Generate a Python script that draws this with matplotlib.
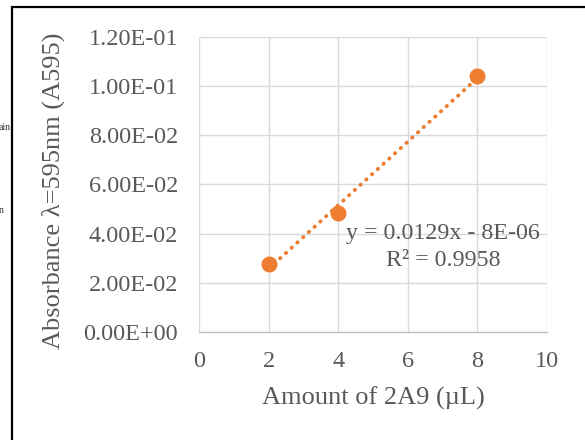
import matplotlib
matplotlib.use("Agg")
import matplotlib.pyplot as plt
from matplotlib.patches import Rectangle
from matplotlib.ticker import FuncFormatter
import numpy as np

# data
amount_ul = [2, 4, 8]
absorbance = [0.0277, 0.0486, 0.1043]
equation_text = "y = 0.0129x - 8E-06"
r2_text = "R\u00b2 = 0.9958"

orange = "#ED7D31"
text_gray = "#595959"
grid_gray = "#D9D9D9"

plt.rcParams['font.family'] = ['Liberation Serif', 'DejaVu Serif']

W, H = 585, 440
fig = plt.figure(figsize=(W / 100, H / 100), dpi=100)
ax = fig.add_axes([199 / W, (H - 332) / H, 348 / W, 295 / H])

# linear trendline (dotted), like the Excel one
slope, intercept = np.polyfit(amount_ul, absorbance, 1)
xs = np.array([min(amount_ul), max(amount_ul)])
ax.plot(xs, slope * xs + intercept, color=orange, linewidth=2.8,
        linestyle=(0, (0.1, 1.9)), dash_capstyle='round', zorder=3)
ax.plot(amount_ul, absorbance, 'o', color=orange, markersize=10.5, zorder=4)

ax.set_xlim(0, 10)
ax.set_ylim(0, 0.12)
ax.set_xticks(range(0, 11, 2))
ax.set_yticks(np.arange(0, 0.1201, 0.02))
ax.yaxis.set_major_formatter(FuncFormatter(lambda v, p: f"{v:.2E}"))
ax.grid(True, color=grid_gray, linewidth=1.0)
ax.set_axisbelow(True)
for s in ['top', 'right', 'left']:
    ax.spines[s].set_visible(False)
ax.spines['bottom'].set_color('#BFBFBF')
ax.spines['bottom'].set_linewidth(1.0)
ax.tick_params(axis='both', length=0, labelsize=17.5, labelcolor=text_gray)
ax.tick_params(axis='y', pad=15)
ax.tick_params(axis='x', pad=14)

fig.text(373 / W, 1 - 398 / H, "Amount of 2A9 (\u00b5L)", ha='center', va='center',
         fontsize=19, color=text_gray)
fig.text(53 / W, 1 - 191 / H, "Absorbance \u03bb=595nm (A595)", ha='center', va='center',
         rotation=90, fontsize=19, color=text_gray)

# trendline label
fig.text(443 / W, 1 - 233 / H, equation_text, ha='center', va='center',
         fontsize=17.3, color=text_gray)
fig.text(443 / W, 1 - 260 / H, r2_text, ha='center', va='center',
         fontsize=17.3, color=text_gray)

# outer frame (only top and left edges are inside the image)
fig.patches.append(Rectangle((12 / W, -0.1), 1.2, 1 - 7 / H + 0.1, transform=fig.transFigure,
                             fill=False, edgecolor='black', linewidth=1.6))
# cut-off text fragments on the far left
fig.text(11 / W, 1 - 128 / H, "ain", ha='right', va='center', fontsize=7, color='#333333')
fig.text(4 / W, 1 - 210 / H, "n", ha='right', va='center', fontsize=7, color='#333333')

fig.savefig("out.png", dpi=100)
